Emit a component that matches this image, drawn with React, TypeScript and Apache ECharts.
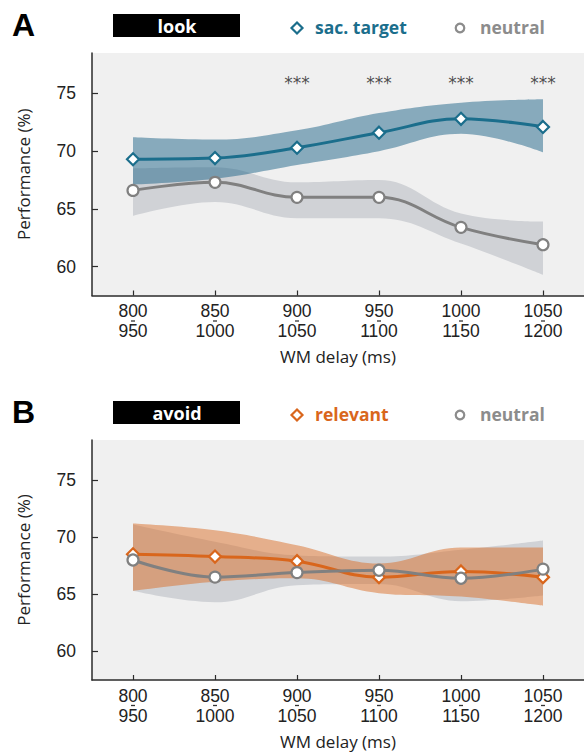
import React, { useEffect, useRef } from 'react';
import * as echarts from 'echarts';

// ---- data ----
const delayStart = ['800', '850', '900', '950', '1000', '1050'];
const delayEnd = ['950', '1000', '1050', '1100', '1150', '1200'];
const yTicks = [60, 65, 70, 75];

// Panel A (look)
const sacTarget = [69.3, 69.4, 70.3, 71.6, 72.8, 72.1];
const sacLower = [67.1, 67.6, 68.8, 70.0, 71.5, 69.9];
const sacUpper = [71.2, 71.0, 71.8, 73.3, 74.2, 74.5];
const neutralA = [66.6, 67.3, 66.0, 66.0, 63.4, 61.9];
const neutralALower = [64.4, 65.6, 64.2, 64.2, 62.0, 59.3];
const neutralAUpper = [68.5, 68.6, 67.3, 67.5, 64.6, 63.9];
const sigCats = ['900', '950', '1000', '1050'];
const sigLevel = 75.9;

// Panel B (avoid)
const relevant = [68.5, 68.3, 67.9, 66.5, 67.0, 66.5];
const relevantLower = [65.3, 66.1, 66.4, 65.1, 64.8, 64.0];
const relevantUpper = [71.2, 70.6, 69.3, 67.7, 69.1, 69.1];
const neutralB = [68.0, 66.5, 66.9, 67.1, 66.4, 67.2];
const neutralBLower = [65.3, 64.3, 65.8, 65.9, 64.4, 64.9];
const neutralBUpper = [71.1, 69.6, 68.4, 68.3, 68.9, 69.7];

const FONT = 'Open Sans';
const NUM_FONT = 'Liberation Sans';
const TEAL = '#1b6e8c';
const ORANGE = '#d9661c';
const GRAY = '#808080';
const GRAY_TEXT = '#8c8c8c';
const AXIS = '#2b2b2b';

function band(name: string, lower: number[], upper: number[], color: string, axis: number, z: number) {
  const stack = name + '-stack';
  return [
    {
      name: name + '-lo', type: 'line', xAxisIndex: axis, yAxisIndex: axis, stack,
      data: lower, smooth: 0.4, symbol: 'none', lineStyle: { opacity: 0 }, z, silent: true,
    },
    {
      name: name + '-band', type: 'line', xAxisIndex: axis, yAxisIndex: axis, stack,
      data: upper.map((u, i) => +(u - lower[i]).toFixed(2)), smooth: 0.4, symbol: 'none',
      lineStyle: { opacity: 0 }, areaStyle: { color, opacity: 1 }, z, silent: true,
    },
  ];
}

function meanLine(name: string, data: number[], color: string, symbol: string, axis: number, z: number, size: number) {
  return {
    name, type: 'line', xAxisIndex: axis, yAxisIndex: axis, data, smooth: 0.4,
    symbol, symbolSize: size, showAllSymbol: true,
    lineStyle: { color, width: 3 },
    itemStyle: { color: '#ffffff', borderColor: color, borderWidth: 2.2 },
    z,
  };
}

function xAxis(i: number) {
  return {
    type: 'category', gridIndex: i, data: delayStart, boundaryGap: true,
    axisLine: { show: true, lineStyle: { color: AXIS, width: 1.5 } },
    axisTick: { show: true, inside: true, length: 5, alignWithLabel: true, lineStyle: { color: AXIS, width: 1.2 } },
    axisLabel: {
      interval: 0, margin: 7,
      formatter: (v: string, idx: number) => `{n|${v}}\n{d| }\n{n|${delayEnd[idx]}}`,
      rich: {
        n: { fontSize: 17.5, lineHeight: 17, fontFamily: NUM_FONT, color: '#222' },
        d: { fontSize: 1, lineHeight: 3, width: 4, height: 1.3, backgroundColor: '#333', align: 'center' },
      },
    },
    splitLine: { show: false },
    name: 'WM delay (ms)', nameLocation: 'middle', nameGap: 51,
    nameTextStyle: { fontSize: 17, fontFamily: FONT, color: '#222', lineHeight: 20 },
  };
}

function yAxis(i: number) {
  return {
    type: 'value', gridIndex: i, min: 57.5, max: 78.5,
    axisLine: { show: true, lineStyle: { color: AXIS, width: 1.5 } },
    axisTick: { show: true, inside: true, length: 6, customValues: yTicks, lineStyle: { color: AXIS, width: 1.2 } },
    axisLabel: { customValues: yTicks, margin: 16, fontSize: 17.5, fontFamily: NUM_FONT, color: '#222' },
    splitLine: { show: false },
    name: 'Performance (%)', nameLocation: 'middle', nameGap: 60, nameRotate: 90,
    nameTextStyle: { fontSize: 17, fontFamily: FONT, color: '#222' },
  };
}

function header(letter: string, label: string, condName: string, condColor: string, dy: number) {
  return [
    { type: 'text', left: 12, top: 9 + dy, style: { text: letter, font: 'bold 32px "Liberation Sans"', fill: '#000' } },
    { type: 'rect', shape: { x: 113, y: 14 + dy, width: 127, height: 23 }, style: { fill: '#000' } },
    { type: 'text', x: 177, y: 26 + dy, style: { text: label, font: `bold 18px "${FONT}"`, fill: '#fff', align: 'center', verticalAlign: 'middle' } },
    { type: 'polygon', shape: { points: [[297, 22.5 + dy], [302.5, 28 + dy], [297, 33.5 + dy], [291.5, 28 + dy]] }, style: { fill: '#fff', stroke: condColor, lineWidth: 2.2 } },
    { type: 'text', x: 315, y: 27 + dy, style: { text: condName, font: `bold 17.5px "${FONT}"`, fill: condColor, align: 'left', verticalAlign: 'middle' } },
    { type: 'circle', shape: { cx: 460, cy: 28 + dy, r: 4.3 }, style: { fill: '#fff', stroke: GRAY_TEXT, lineWidth: 2.2 } },
    { type: 'text', x: 480, y: 27 + dy, style: { text: 'neutral', font: `bold 17.5px "${FONT}"`, fill: GRAY_TEXT, align: 'left', verticalAlign: 'middle' } },
  ];
}

export default function App() {
  const ref = useRef<HTMLDivElement>(null);
  useEffect(() => {
    if (!ref.current) return;
    const chart = echarts.init(ref.current, undefined, { renderer: 'svg' });
    const option = {
      animation: false,
      backgroundColor: '#ffffff',
      grid: [
        { left: 92, top: 53, width: 492, height: 242.5, show: true, backgroundColor: '#f0f0f0', borderWidth: 0 },
        { left: 92, top: 440, width: 492, height: 242.3, show: true, backgroundColor: '#f0f0f0', borderWidth: 0 },
      ],
      xAxis: [xAxis(0), xAxis(1)],
      yAxis: [yAxis(0), yAxis(1)],
      graphic: [...header('A', 'look', 'sac. target', TEAL, 0), ...header('B', 'avoid', 'relevant', ORANGE, 387)],
      series: [
        ...band('neutralA', neutralALower, neutralAUpper, '#d0d2d6', 0, 1),
        ...band('sacA', sacLower, sacUpper, 'rgba(30,100,135,0.5)', 0, 2),
        meanLine('sac. target', sacTarget, TEAL, 'diamond', 0, 3, 12),
        meanLine('neutral', neutralA, GRAY, 'circle', 0, 4, 11),
        {
          name: 'sig', type: 'scatter', xAxisIndex: 0, yAxisIndex: 0,
          data: sigCats.map((c) => [c, sigLevel]), symbolSize: 1,
          itemStyle: { color: 'transparent' },
          label: { show: true, position: 'inside', formatter: '***', fontSize: 17, fontFamily: 'DejaVu Sans', color: '#222' },
          z: 5, silent: true,
        },
        ...band('neutralB', neutralBLower, neutralBUpper, '#d0d2d6', 1, 1),
        ...band('relB', relevantLower, relevantUpper, 'rgba(217,110,40,0.5)', 1, 2),
        meanLine('relevant', relevant, ORANGE, 'diamond', 1, 3, 12),
        meanLine('neutral', neutralB, GRAY, 'circle', 1, 4, 11),
      ],
    };
    chart.setOption(option as any);
    return () => chart.dispose();
  }, []);
  return <div ref={ref} style={{ position: 'absolute', left: 0, top: 0, width: 584, height: 752 }} />;
}
